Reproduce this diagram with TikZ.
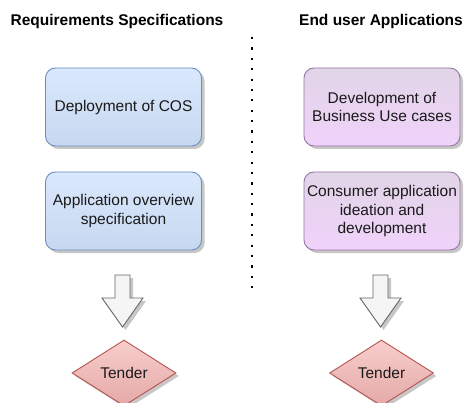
\documentclass[tikz,border=0pt]{standalone}
\usepackage{fontspec}
\setmainfont{Liberation Sans}
\usetikzlibrary{shapes.geometric,shadows}

\definecolor{blueFill}{HTML}{DAE8FC}
\definecolor{blueFillB}{HTML}{C6D8F0}
\definecolor{blueLine}{HTML}{6C8EBF}
\definecolor{purpFill}{HTML}{E1D5E7}
\definecolor{purpFillB}{HTML}{F0D2FA}
\definecolor{purpLine}{HTML}{9673A6}
\definecolor{redFill}{HTML}{F8CECC}
\definecolor{redFillB}{HTML}{E3A9A7}
\definecolor{redLine}{HTML}{B85450}
\definecolor{grayFill}{HTML}{F5F5F5}
\definecolor{grayLine}{HTML}{666666}
\definecolor{ink}{HTML}{1A1A1A}

\tikzset{
  softshadow/.style={drop shadow={shadow xshift=3pt,shadow yshift=-3pt,fill=black,opacity=0.22}},
  txt/.style={font=\fontsize{15.5}{18.6}\selectfont, text=ink},
  heading/.style={font=\bfseries\fontsize{15.5}{18.6}\selectfont, text=black},
  card/.style={txt, rectangle, rounded corners=10pt, minimum width=156pt,
    minimum height=78pt, inner sep=2pt, align=center, line width=0.9pt, softshadow},
  reqcard/.style={card, draw=blueLine, top color=blueFill, bottom color=blueFillB},
  usecard/.style={card, draw=purpLine, top color=purpFill, bottom color=purpFillB},
  tenderbox/.style={txt, diamond, minimum width=104pt, minimum height=66pt,
    inner sep=0pt, draw=redLine, line width=0.9pt, top color=redFill,
    bottom color=redFillB, softshadow},
  arrowbody/.style={draw=grayLine, fill=grayFill, line width=0.9pt, line join=miter, softshadow},
  downarrow/.pic={
    \path[arrowbody] (-7.5,-26) -- (7.5,-26) -- (7.5,-3) -- (20.5,-3)
      -- (0,26) -- (-20.5,-3) -- (-7.5,-3) -- cycle;
  },
  sepline/.style={line width=2.2pt, dash pattern=on 2.2pt off 8.18pt}
}

\begin{document}
\begin{tikzpicture}[x=1pt,y=-1pt]
  \useasboundingbox (0,0) rectangle (465,403);
  \begin{scope}
    \clip (0,0) rectangle (465,403);

    % column headings
    \node[heading] (hreq) at (117,21) {Requirements Specifications};
    \node[heading] (huse) at (381,21) {End user Applications};

    % dotted separator between the two columns
    \coordinate (septop) at (252,37);
    \coordinate (sepbot) at (252,290);
    \draw[sepline] (septop) -- (sepbot);

    % left column
    \node[reqcard] (cos) at (123.5,107) {Deployment of COS};
    \node[reqcard] (ovw) at (123.5,211) {Application overview\\specification};
    \pic at (122.5,301) {downarrow};
    \node[tenderbox] (tenderL) at (124,373) {Tender};

    % right column
    \node[usecard] (biz) at (382,107) {Development of\\Business Use cases};
    \node[usecard] (cons) at (382,211) {Consumer application\\ideation and\\development};
    \pic at (380.5,301) {downarrow};
    \node[tenderbox] (tenderR) at (381.5,373) {Tender};
  \end{scope}
\end{tikzpicture}
\end{document}
